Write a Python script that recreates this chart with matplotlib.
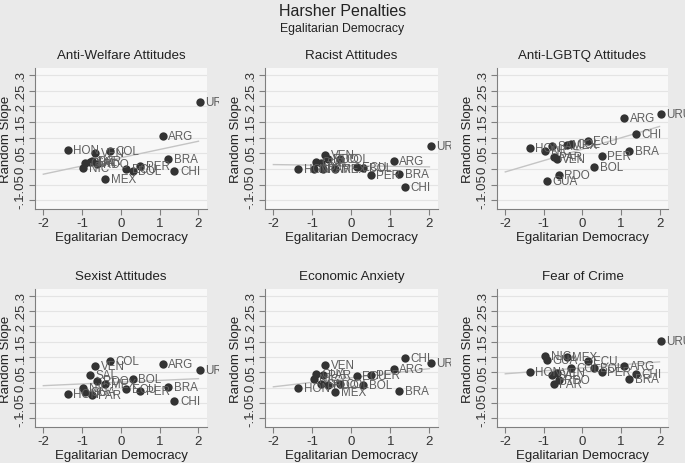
import matplotlib
matplotlib.use("Agg")
import matplotlib.pyplot as plt
import numpy as np
from matplotlib.transforms import Bbox, TransformedBbox

plt.rcParams['font.family'] = ['Liberation Sans', 'DejaVu Sans']

countries = ['HON', 'GUA', 'NIC', 'SAL', 'PAR', 'VEN', 'RDO', 'MEX', 'COL', 'ECU',
             'BOL', 'PER', 'ARG', 'BRA', 'CHI', 'URU']
egal_dem = [-1.37, -0.92, -0.97, -0.79, -0.74, -0.67, -0.61, -0.41, -0.29, 0.14,
            0.30, 0.50, 1.08, 1.22, 1.38, 2.04]

anti_welfare = [0.061, 0.020, 0.004, 0.022, 0.025, 0.050, 0.016, -0.031, 0.056, 0.000,
                -0.007, 0.009, 0.106, 0.032, -0.007, 0.212]
racist = [0.001, 0.021, 0.001, 0.018, 0.001, 0.045, 0.030, 0.000, 0.032, 0.007,
          0.004, -0.021, 0.025, -0.015, -0.059, 0.072]
anti_lgbtq = [0.066, -0.040, 0.058, 0.072, 0.037, 0.032, -0.021, 0.075, 0.080, 0.088,
              0.007, 0.041, 0.161, 0.058, 0.112, 0.176]
sexist = [-0.019, -0.014, 0.000, 0.040, -0.023, 0.072, 0.022, 0.013, 0.088, -0.005,
          0.030, -0.009, 0.077, 0.002, -0.042, 0.059]
econ_anxiety = [0.000, 0.045, 0.029, 0.012, 0.040, 0.073, 0.008, -0.015, 0.013, 0.038,
                0.009, 0.042, 0.061, -0.010, 0.096, 0.080]
fear_crime = [0.050, 0.091, 0.105, 0.042, 0.013, 0.047, 0.025, 0.100, 0.066, 0.088,
              0.063, 0.050, 0.072, 0.027, 0.046, 0.153]

panel_titles = ['Anti-Welfare Attitudes', 'Racist Attitudes', 'Anti-LGBTQ Attitudes',
                'Sexist Attitudes', 'Economic Anxiety', 'Fear of Crime']
panel_values = [anti_welfare, racist, anti_lgbtq, sexist, econ_anxiety, fear_crime]

y_ticks = [-0.1, -0.05, 0, 0.05, 0.1, 0.15, 0.2, 0.25, 0.3]
y_ticklabels = ['-.1', '-.05', '0', '.05', '.1', '.15', '.2', '.25', '.3']
x_ticks = [-2, -1, 0, 1, 2]

W, H = 685, 464
fig = plt.figure(figsize=(W / 100, H / 100), dpi=100)
fig.patch.set_facecolor('#EAEAEA')

# axes pixel boxes (left, top, right, bottom)
lefts = [35, 265, 497]
rights = [207, 438, 668]
tops = [69, 290]
bottoms = [210, 428]
clip_right = [219, 451, 685]

x = np.array(egal_dem)
for i, (title, vals) in enumerate(zip(panel_titles, panel_values)):
    r, c = divmod(i, 3)
    l, rr = lefts[c], rights[c]
    t, b = tops[r], bottoms[r]
    ax = fig.add_axes([l / W, 1 - b / H, (rr - l) / W, (b - t) / H])
    ax.set_facecolor('#F8F8F8')
    y = np.array(vals)
    ax.set_xlim(-2.215, 2.22)
    ax.set_ylim(-0.128, 0.322)
    ax.set_yticks(y_ticks)
    ax.set_yticklabels(y_ticklabels, rotation=90, va='center')
    ax.set_xticks(x_ticks)
    ax.set_xticklabels([str(v) for v in x_ticks])
    ax.grid(axis='y', color='#E4E4E4', linewidth=0.8)
    ax.set_axisbelow(True)
    for s in ['top', 'right']:
        ax.spines[s].set_visible(False)
    for s in ['left', 'bottom']:
        ax.spines[s].set_color('#7F7F7F')
        ax.spines[s].set_linewidth(0.8)
    ax.tick_params(colors='#7F7F7F', labelcolor='#333333', labelsize=9.5, length=4, width=0.8, pad=2)
    # fitted line
    slope, intercept = np.polyfit(x, y, 1)
    xf = np.array([-2, 2])
    ax.plot(xf, intercept + slope * xf, color='#C4C4C4', linewidth=1.0, zorder=2)
    ax.scatter(x, y, s=36, color='#333333', zorder=3, linewidths=0)
    clipbox = TransformedBbox(Bbox([[0, 0], [clip_right[c] / W, 1]]), fig.transFigure)
    for name, xv, yv in zip(countries, x, y):
        txt = ax.annotate(name, (xv, yv), xytext=(4, 0), textcoords='offset points',
                          va='center', ha='left', fontsize=8.4, color='#5E5E5E',
                          annotation_clip=False, zorder=4)
        txt.set_clip_on(True)
        txt.set_clip_box(clipbox)
    ax.set_title(title, fontsize=9.6, color='#222222', pad=7)
    ax.set_xlabel('Egalitarian Democracy', fontsize=9.5, color='#222222', labelpad=1)
    ax.set_ylabel('Random Slope', fontsize=9.5, color='#222222', labelpad=2)

fig.text(0.5, 1 - 11 / H, 'Harsher Penalties', ha='center', va='center', fontsize=11.5, color='#222222')
fig.text(0.5, 1 - 29 / H, 'Egalitarian Democracy', ha='center', va='center', fontsize=8.8, color='#222222')

fig.savefig('out.png', dpi=100, facecolor=fig.get_facecolor())
